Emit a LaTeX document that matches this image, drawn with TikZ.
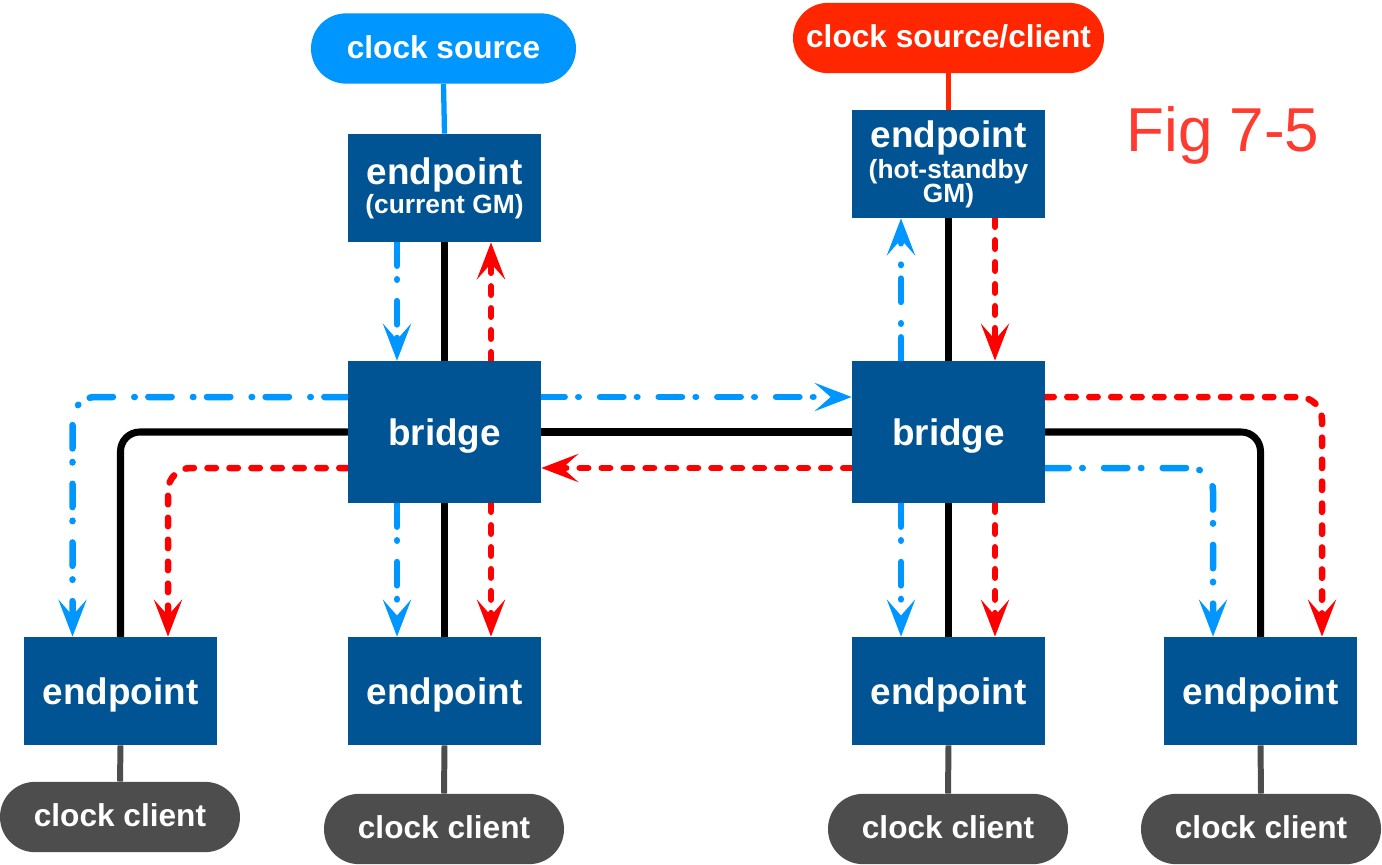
\documentclass[tikz,border=0pt]{standalone}
\usepackage{fontspec}
\setmainfont{Liberation Sans}
\usepackage{tikz}
\usetikzlibrary{arrows.meta, calc}
\pgfdeclarelayer{bg}
\pgfsetlayers{bg,main}

\definecolor{epblue}{RGB}{0,84,148}
\definecolor{srcblue}{RGB}{0,150,255}
\definecolor{srcred}{RGB}{255,38,0}
\definecolor{figred}{RGB}{255,59,48}
\definecolor{clgray}{RGB}{77,77,77}

\tikzset{
  box/.style={fill=epblue, text=white, font=\bfseries\fontsize{21}{16}\selectfont,
    minimum width=109.8pt, minimum height=61.5pt, inner sep=0pt, align=center},
  oneline/.style={text height=16.5pt, text depth=1.7pt},
  brbox/.style={box, oneline, minimum height=80.8pt},
  pill/.style={rounded corners=19.9pt, text=white, font=\bfseries\fontsize{18}{20}\selectfont,
    minimum height=40pt, inner sep=0pt, text height=13pt, text depth=1.8pt},
  wire/.style={line width=4pt, line cap=round, rounded corners=11pt},
  srcline/.style={line width=3pt},
  clline/.style={line width=3.4pt, clgray},
  tip/.style={-{Stealth[length=21pt, width=16pt, inset=9pt]}},
  sync/.style={tip, line width=3.7pt, line cap=round, srcblue, rounded corners=13pt,
    dash pattern=on 13.3pt off 7.7pt on 0.3pt off 12.1pt},
  resp/.style={tip, line width=3.7pt, line cap=round, red, rounded corners=13pt,
    dash pattern=on 4.8pt off 7.7pt},
}

\begin{document}
  \begin{tikzpicture}[x=0.02cm, y=-0.02cm]
    \useasboundingbox (0, 0) rectangle (1382, 865);

    \node[pill, fill=srcblue, minimum width=150.8pt] (src) at (443.5, 48.5) {clock source};
    \node[pill, fill=srcred, minimum width=177pt] (srcc) at (948.5, 38) {clock source/client};

    \node[box] (gm) at (444.5, 188) {endpoint\\[0.6pt]{\fontsize{15}{14}\selectfont(current GM)}};
    \node[box] (hsgm) at (948.5, 164)
      {endpoint\\[1.6pt]{\fontsize{15}{14}\selectfont(hot-standby}\\[-2.3pt]{\fontsize{15}{14}\selectfont GM)}};

    \node[brbox] (brl) at (444.5, 432) {bridge};
    \node[brbox] (brr) at (948.5, 432) {bridge};

    \node[box, oneline] (epa) at (120.5, 691) {endpoint};
    \node[box, oneline] (epb) at (444.5, 691) {endpoint};
    \node[box, oneline] (epc) at (948.5, 691) {endpoint};
    \node[box, oneline] (epd) at (1260.5, 691) {endpoint};

    \node[pill, fill=clgray, minimum width=136.6pt] (cla) at (120, 817) {clock client};
    \node[pill, fill=clgray, minimum width=136.6pt] (clb) at (444, 829) {clock client};
    \node[pill, fill=clgray, minimum width=136.6pt] (clc) at (948, 829) {clock client};
    \node[pill, fill=clgray, minimum width=136.6pt] (cld) at (1261, 829) {clock client};

    \node[anchor=base, text=figred, font=\fontsize{35.3}{40}\selectfont] (fig) at (1223, 152) {Fig 7-5};

    \begin{pgfonlayer}{bg}
      \draw[srcline, srcblue] (src.south) -- (gm.north);
      \draw[srcline, srcred] (srcc.south) -- (hsgm.north);
      \foreach \ep/\cl in {epa/cla, epb/clb, epc/clc, epd/cld}
        \draw[clline] (\ep.south) -- (\cl.north);

      % physical links
      \draw[wire] (gm.south) -- (brl.north);
      \draw[wire] (hsgm.south) -- (brr.north);
      \draw[wire] (brl.east) -- (brr.west);
      \draw[wire] (brl.south) -- (epb.north);
      \draw[wire] (brr.south) -- (epc.north);
      \draw[wire] (brl.west) -| (epa.north);
      \draw[wire] (brr.east) -| (epd.north);

      % sync from current GM
      \draw[sync] ($(gm.south)+(-47.5,0)$) -- ($(brl.north)+(-47.5,0)$);
      \draw[sync] ($(brr.north)+(-47.5,0)$) -- ($(hsgm.south)+(-47.5,0)$);
      \draw[sync] ($(brl.east)+(0,-35)$) -- ($(brr.west)+(0,-35)$);
      \draw[sync] ($(brl.west)+(0,-35)$) -| ($(epa.north)+(-48,0)$);
      \draw[sync] ($(brl.south)+(-47.5,0)$) -- ($(epb.north)+(-47.5,0)$);
      \draw[sync] ($(brr.south)+(-47.5,0)$) -- ($(epc.north)+(-47.5,0)$);
      \draw[sync] ($(brr.east)+(0,36)$) -| ($(epd.north)+(-47.5,0)$);

      % sync from hot-standby GM
      \draw[resp] ($(brl.north)+(46.5,0)$) -- ($(gm.south)+(46.5,0)$);
      \draw[resp] ($(hsgm.south)+(46.5,0)$) -- ($(brr.north)+(46.5,0)$);
      \draw[resp] ($(brr.west)+(0,36)$) -- ($(brl.east)+(0,36)$);
      \draw[resp] ($(brl.west)+(0,36)$) -| ($(epa.north)+(47.5,0)$);
      \draw[resp] ($(brl.south)+(46.5,0)$) -- ($(epb.north)+(46.5,0)$);
      \draw[resp] ($(brr.south)+(46.5,0)$) -- ($(epc.north)+(46.5,0)$);
      \draw[resp] ($(brr.east)+(0,-35)$) -| ($(epd.north)+(61.5,0)$);
    \end{pgfonlayer}
  \end{tikzpicture}
\end{document}
